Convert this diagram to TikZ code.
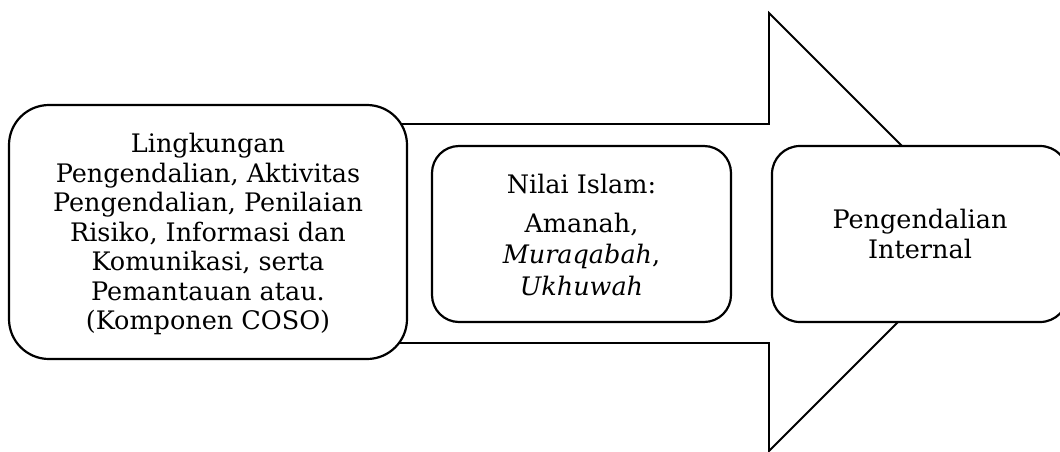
\documentclass[tikz,border=0pt]{standalone}
\usepackage{fontspec}
\setmainfont{DejaVu Serif}
\begin{document}
\begin{tikzpicture}[x=1pt,y=-1pt,
  boxstyle/.style={draw=black,line width=2.2pt,fill=white,rounded corners=#1},
  arrowshape/.style={draw=black,line width=1.8pt,fill=white,line join=miter},
  txt/.style={align=center,font=\fontsize{25.5}{29.5}\selectfont,inner sep=0pt}]
\useasboundingbox (0,0) rectangle (1060,451);
% big arrow
\coordinate (a1) at (200,124);
\coordinate (a2) at (769,124);
\coordinate (a3) at (769,13);
\coordinate (tip) at (988,232);
\coordinate (a5) at (769,451);
\coordinate (a6) at (769,343);
\coordinate (a7) at (200,343);
\draw[arrowshape] (a1) -- (a2) -- (a3) -- (tip) -- (a5) -- (a6) -- (a7) -- cycle;
% boxes
\draw[boxstyle=40pt] (9,105) rectangle (407,359);
\node[txt] (b1) at (208,234) {Lingkungan\\Pengendalian, Aktivitas\\Pengendalian, Penilaian\\Risiko, Informasi dan\\Komunikasi, serta\\Pemantauan atau.\\(Komponen COSO)};
\draw[boxstyle=27pt] (432,146) rectangle (731,322);
\node[txt,anchor=base] (b2t) at (581.5,193) {Nilai Islam:};
\node[txt,anchor=base] (b2) at (581.5,232) {Amanah,};
\node[txt,anchor=base] (b2b) at (581.5,263) {\textit{Muraqabah},};
\node[txt,anchor=base] (b2c) at (581.5,295) {\textit{Ukhuwah}};
\draw[boxstyle=28pt] (772,146) rectangle (1068,322);
\node[txt,anchor=base] (b3) at (920,228) {Pengendalian};
\node[txt,anchor=base] (b3b) at (920,258) {Internal};
\end{tikzpicture}
\end{document}
